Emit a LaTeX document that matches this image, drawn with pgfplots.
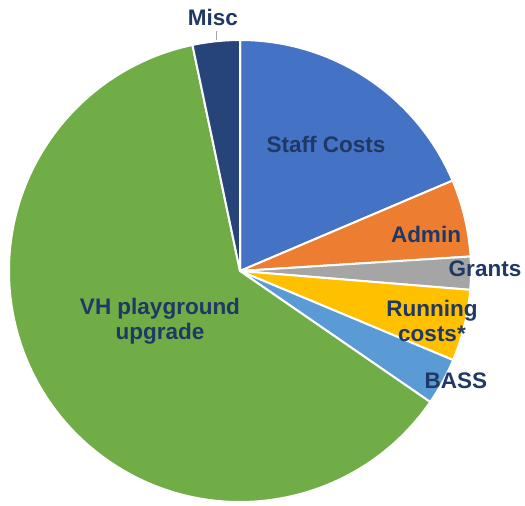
\documentclass[border=0pt]{standalone}
\usepackage{pgfplots}
\usepackage{pgfplotstable}
\usepackage{fontspec}
\setmainfont{Liberation Sans}
\pgfplotsset{compat=1.18}
\definecolor{c0}{HTML}{4472C4}
\definecolor{c1}{HTML}{ED7D31}
\definecolor{c2}{HTML}{A5A5A5}
\definecolor{c3}{HTML}{FFC000}
\definecolor{c4}{HTML}{5B9BD5}
\definecolor{c5}{HTML}{70AD47}
\definecolor{c6}{HTML}{264478}
\definecolor{lbl}{HTML}{203864}
\pgfplotstableread{
name value
Staff 18.6
Admin 5.4
Grants 2.3
Running 5.0
BASS 3.3
VH 62.1
Misc 3.3
}\piedata
\begin{document}%
\begin{tikzpicture}%
\begin{axis}[hide axis, scale only axis, width=525pt, height=506pt,
  xmin=-240, xmax=285, ymin=-235, ymax=271, clip=false]%
\coordinate (BL) at (axis cs:-240,-235);%
\coordinate (TR) at (axis cs:285,271);%
\pgfmathsetmacro\cur{90}%
\pgfplotsforeachungrouped \i in {0,...,6}{%
  \pgfplotstablegetelem{\i}{value}\of\piedata%
  \let\v\pgfplotsretval%
  \pgfmathsetmacro\nxt{\cur-3.6*\v}%
  \edef\cmd{\noexpand\fill[fill=c\i, draw=white, line width=2pt, line join=round] (axis cs:0,0) -- ++(\cur:231pt) arc[start angle=\cur, end angle=\nxt, radius=231pt] -- cycle;}%
  \cmd%
  \global\let\cur\nxt%
}%
\draw[gray!70, line width=0.8pt] (axis cs:-24,240) -- (axis cs:-24,231);%
\begin{scope}[every node/.style={font=\fontsize{22.5}{25}\selectfont\bfseries, text=lbl, align=center, inner sep=0pt}]%
\node at (axis cs:-27,254) {Misc};%
\node at (axis cs:86,127) {Staff Costs};%
\node at (axis cs:186,37) {Admin};%
\node at (axis cs:245,2) {Grants};%
\node at (axis cs:192,-50) {Running\\costs*};%
\node at (axis cs:216,-110) {BASS};%
\node at (axis cs:-80,-50) {VH playground\\upgrade};%
\end{scope}%
\end{axis}%
\pgfresetboundingbox%
\path (BL) rectangle (TR);%
\end{tikzpicture}%
\end{document}
